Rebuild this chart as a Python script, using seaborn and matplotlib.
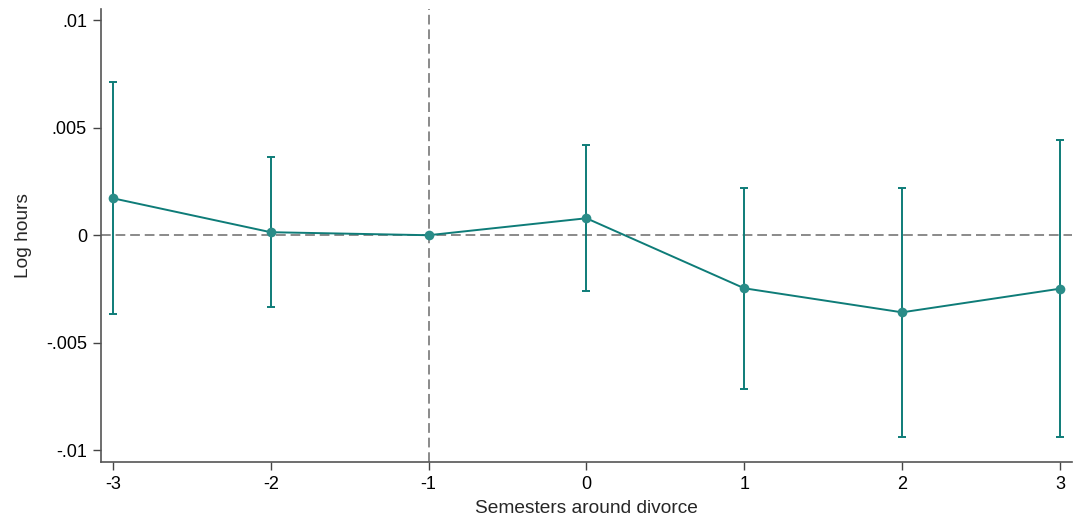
import numpy as np
import pandas as pd
import matplotlib
matplotlib.use("Agg")
import matplotlib.pyplot as plt
import seaborn as sns

# Event-study estimates: log hours by semester relative to divorce
semesters = [-3, -2, -1, 0, 1, 2, 3]
coef = [0.00172, 0.00014, 0.0, 0.00079, -0.00247, -0.00359, -0.00249]
ci_low = [-0.00367, -0.00334, 0.0, -0.00259, -0.00714, -0.00939, -0.00939]
ci_high = [0.00715, 0.00363, 0.0, 0.00420, 0.00222, 0.00220, 0.00444]
ytick_vals = [-0.01, -0.005, 0, 0.005, 0.01]
ytick_labels = ["-.01", "-.005", "0", ".005", ".01"]

df = pd.DataFrame({"semester": semesters, "coef": coef,
                   "lo": ci_low, "hi": ci_high})

sns.set_style("white")
plt.rcParams["font.family"] = ["Liberation Sans", "DejaVu Sans"]

teal = "#0e7c78"
fig = plt.figure(figsize=(10.73, 5.18), dpi=100)
ax = fig.add_axes([0.094, 0.108, 0.905, 0.875])

# Reference lines
ax.axhline(0, color="#8a8a8a", lw=1.4, ls=(0, (5, 2.5)), zorder=1)
ax.axvline(-1, color="#8a8a8a", lw=1.4, ls=(0, (5, 2.5)), zorder=1)

# Confidence intervals (skip the omitted reference period)
ci = df[df["semester"] != -1]
ax.errorbar(ci["semester"], ci["coef"],
            yerr=[ci["coef"] - ci["lo"], ci["hi"] - ci["coef"]],
            fmt="none", ecolor=teal, elinewidth=1.4, capsize=3,
            capthick=1.4, zorder=2)

# Point estimates connected by a line
sns.lineplot(data=df, x="semester", y="coef", ax=ax, color=teal,
             lw=1.4, marker="o", markersize=7, markeredgewidth=0,
             markerfacecolor="#2a8c88", zorder=3)

ax.set_xlim(-3.076, 3.076)
ax.set_ylim(-0.01056, 0.01054)
ax.set_xticks(semesters)
ax.set_xticklabels([str(s) for s in semesters])
ax.set_yticks(ytick_vals)
ax.set_yticklabels(ytick_labels)

ax.set_xlabel("Semesters around divorce", fontsize=13.8, labelpad=5)
ax.set_ylabel("Log hours", fontsize=13.8, labelpad=10)

for side in ["top", "right"]:
    ax.spines[side].set_visible(False)
for side in ["left", "bottom"]:
    ax.spines[side].set_color("#555555")
    ax.spines[side].set_linewidth(1.2)
ax.tick_params(axis="both", which="both", direction="out", length=6,
               width=1.0, color="#444444", labelsize=13, labelcolor="black",
               left=True, bottom=True, pad=4)
ax.grid(False)

fig.savefig("out.png", dpi=100)
